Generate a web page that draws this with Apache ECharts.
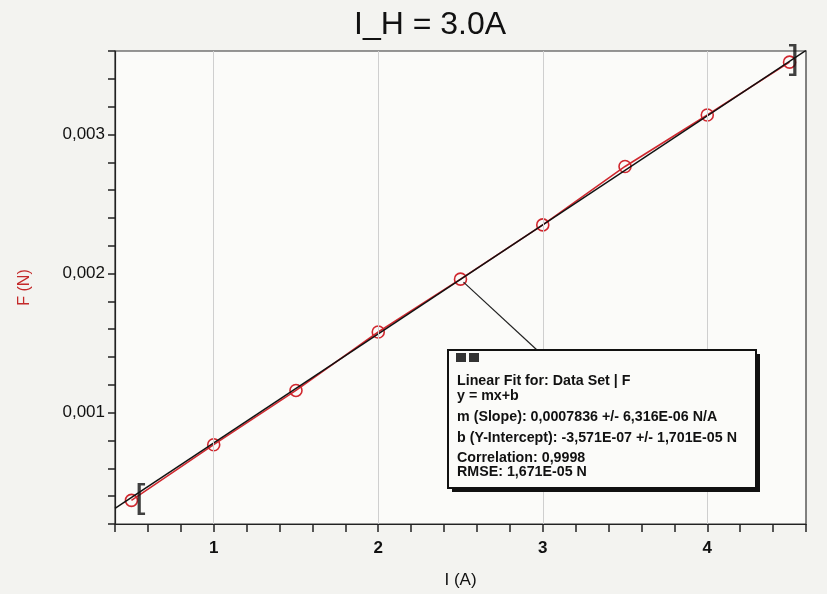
<!DOCTYPE html>
<html>
<head>
<meta charset="utf-8">
<script src="https://cdn.jsdelivr.net/npm/echarts@6/dist/echarts.min.js"></script>
<style>
  html, body { margin: 0; padding: 0; background: #f3f3f0; }
  #chart { width: 827px; height: 594px; }
</style>
</head>
<body>
<div id="chart"></div>
<script>
// measured current I (A) and force F (N)
const currents = [0.5, 1.0, 1.5, 2.0, 2.5, 3.0, 3.5, 4.0, 4.5];
const forces = [0.00037, 0.00077, 0.00116, 0.00158, 0.00196, 0.00235, 0.00277, 0.00314, 0.00352];

// linear fit shown in the box
const slope = 0.0007836;
const intercept = -3.571e-7;
const fitRange = [0.4, 4.6];
const bracketPoints = [[0.5, 0.00037, '['], [4.5, 0.00352, ']']];

const gridX = [1, 2, 3, 4];
const gridY = [0.001, 0.002, 0.003];

const boxLines = [
  'Linear Fit for: Data Set | F',
  'y = mx+b',
  'm (Slope): 0,0007836 +/- 6,316E-06 N/A',
  'b (Y-Intercept): -3,571E-07 +/- 1,701E-05 N',
  'Correlation: 0,9998',
  'RMSE: 1,671E-05 N'
];
const boxLineY = [31, 46, 67, 88, 108, 122];

const chart = echarts.init(document.getElementById('chart'));

const fitLine = fitRange.map(x => [x, slope * x + intercept]);

const option = {
  backgroundColor: '#f3f3f0',
  animation: false,
  title: {
    text: 'I_H = 3.0A',
    left: 349,
    top: 4,
    textStyle: { fontFamily: 'Liberation Sans, Arial', fontSize: 32, fontWeight: 'normal', color: '#111' }
  },
  grid: {
    left: 115, right: 21, top: 51, bottom: 69,
    show: true, backgroundColor: '#fbfbf9', borderColor: '#333', borderWidth: 1.2
  },
  xAxis: {
    type: 'value',
    min: 0.4, max: 4.6, interval: 0.2,
    name: 'I (A)',
    nameLocation: 'middle',
    nameGap: 48,
    nameTextStyle: { fontFamily: 'Liberation Sans, Arial', fontSize: 17, color: '#111' },
    axisLine: { lineStyle: { color: '#222', width: 1.2 } },
    axisTick: { length: 8, lineStyle: { color: '#222', width: 1.5 } },
    axisLabel: {
      fontFamily: 'Liberation Sans, Arial', fontSize: 17, fontWeight: 'bold', color: '#111', margin: 16,
      formatter: v => {
        const r = Math.round(v);
        return Math.abs(v - r) < 1e-6 ? String(r) : '';
      }
    },
    splitLine: { show: false }
  },
  yAxis: {
    type: 'value',
    min: 0.0002, max: 0.0036, interval: 0.0002,
    name: 'F (N)',
    nameLocation: 'middle',
    nameGap: 82,
    nameTextStyle: { fontFamily: 'Liberation Sans, Arial', fontSize: 16, color: '#c42a2a' },
    axisLine: { show: true, lineStyle: { color: '#222', width: 1.2 } },
    axisTick: { show: true, length: 7, lineStyle: { color: '#222', width: 1.5 } },
    axisLabel: {
      fontFamily: 'Liberation Sans, Arial', fontSize: 17, color: '#111', margin: 10,
      formatter: v => {
        const k = v * 1000;
        if (Math.abs(k - Math.round(k)) > 1e-6) return '';
        return (Math.round(k) / 1000).toFixed(3).replace('.', ',');
      }
    },
    splitLine: { show: false }
  },
  series: [
    {
      name: 'grid',
      type: 'line',
      data: [],
      silent: true,
      z: 1,
      markLine: {
        silent: true,
        symbol: 'none',
        label: { show: false },
        lineStyle: { color: '#cfcfcf', width: 1, type: 'solid' },
        data: gridX.map(x => ({ xAxis: x })).concat(gridY.map(y => ({ yAxis: y })))
      }
    },
    {
      name: 'Data Set | F',
      type: 'line',
      data: currents.map((x, i) => [x, forces[i]]),
      symbol: 'circle',
      symbolSize: 12,
      lineStyle: { color: '#d0282f', width: 1.6 },
      itemStyle: { color: 'rgba(0,0,0,0)', borderColor: '#d0282f', borderWidth: 1.6 },
      z: 3
    },
    {
      name: 'Linear Fit',
      type: 'line',
      data: fitLine,
      symbol: 'none',
      lineStyle: { color: '#111', width: 1.5 },
      z: 4
    },
    {
      name: 'brackets',
      type: 'scatter',
      data: [
        { value: [bracketPoints[0][0], bracketPoints[0][1]], label: { formatter: bracketPoints[0][2], offset: [10, 0] } },
        { value: [bracketPoints[1][0], bracketPoints[1][1]], label: { formatter: bracketPoints[1][2], offset: [3, 0] } }
      ],
      symbolSize: 1,
      itemStyle: { color: 'rgba(0,0,0,0)' },
      label: {
        show: true,
        position: 'inside',
        fontFamily: 'DejaVu Sans, Arial',
        fontSize: 36,
        color: '#111'
      },
      z: 5
    }
  ]
};

chart.setOption(option);

// leader line from the fitted point under the box to the annotation
const anchor = chart.convertToPixel({ seriesIndex: 1 }, [currents[4], forces[4]]);

const boxX = 448, boxY = 350;
const boxParts = [
  { type: 'line', shape: { x1: anchor[0] + 3, y1: anchor[1] + 3, x2: 537, y2: boxY }, style: { stroke: '#222', lineWidth: 1.2 } },
  { type: 'rect', shape: { x: boxX + 4, y: boxY + 4, width: 308, height: 138 }, style: { fill: '#111' } },
  { type: 'rect', shape: { x: boxX, y: boxY, width: 308, height: 138 }, style: { fill: '#fbfbf9', stroke: '#111', lineWidth: 2 } },
  { type: 'rect', shape: { x: boxX + 8, y: boxY + 3, width: 10, height: 9 }, style: { fill: '#333' } },
  { type: 'rect', shape: { x: boxX + 21, y: boxY + 3, width: 10, height: 9 }, style: { fill: '#333' } }
].concat(boxLines.map((t, i) => ({
  type: 'text',
  x: boxX + 9,
  y: boxY + boxLineY[i],
  scaleX: 0.95,
  style: {
    text: t,
    fill: '#111',
    fontFamily: 'Liberation Sans, Arial',
    fontSize: 15,
    fontWeight: 'bold',
    textVerticalAlign: 'middle'
  }
})));

chart.setOption({
  graphic: boxParts.map((p, i) => Object.assign(p, { zlevel: 2, z: 100 + i }))
});
</script>
</body>
</html>
